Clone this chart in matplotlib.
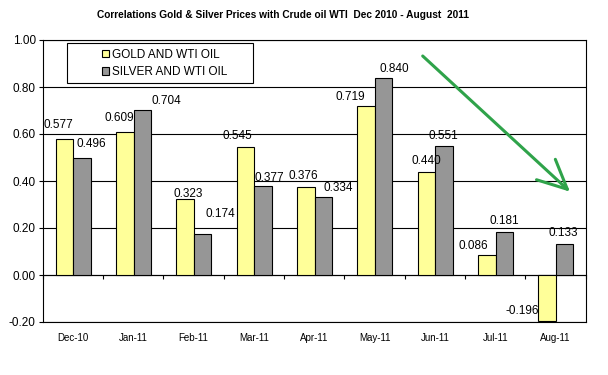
import matplotlib
matplotlib.use("Agg")
import matplotlib.pyplot as plt
import numpy as np
from matplotlib.patches import Patch, Rectangle, FancyArrowPatch

months = ["Dec-10", "Jan-11", "Feb-11", "Mar-11", "Apr-11",
          "May-11", "Jun-11", "Jul-11", "Aug-11"]
gold_wti = [0.577, 0.609, 0.323, 0.545, 0.376, 0.719, 0.440, 0.086, -0.196]
silver_wti = [0.496, 0.704, 0.174, 0.377, 0.334, 0.840, 0.551, 0.181, 0.133]
y_ticks = [-0.2, 0.0, 0.2, 0.4, 0.6, 0.8, 1.0]

# label nudges in pixels (the labels in the original were dragged by hand)
gold_dx = [-6, -5, 3, -8, -2, -16, 0, -13, -25]
gold_dy = [14, 14, 5, 11, 11, 9, 11, 9, 10]
silver_dx = [9, 24, 18, 6, 15, 11, -1, 0, -1]
silver_dy = [14, 9, 20, 8, 9, 9, 10, 11, 11]

plt.rcParams["font.family"] = ["Liberation Sans", "DejaVu Sans"]

W, H = 608, 375
fig = plt.figure(figsize=(W / 100, H / 100), dpi=100)
ax = fig.add_axes([42.7 / W, 1 - 322 / H, (585.7 - 42.7) / W, (322 - 40) / H])

x = np.arange(len(months))
width = 0.29
gold_x = x - 0.14
silver_x = x + 0.15
ax.bar(gold_x, gold_wti, width, color="#ffff99", edgecolor="black", linewidth=0.8, zorder=3)
ax.bar(silver_x, silver_wti, width, color="#969696", edgecolor="black", linewidth=0.8, zorder=3)

for xs, vals, dxs, dys in ((gold_x, gold_wti, gold_dx, gold_dy),
                           (silver_x, silver_wti, silver_dx, silver_dy)):
    for xi, v, dx, dy in zip(xs, vals, dxs, dys):
        ax.annotate(f"{v:.3f}", (xi, v), xytext=(dx, dy), textcoords="offset pixels",
                    ha="center", va="center", fontsize=8.5, zorder=4)

ax.set_xlim(-0.5, len(months) - 0.5)
ax.set_ylim(-0.2, 1.0)
ax.set_yticks(y_ticks)
ax.set_yticklabels([f"{t:.2f}" for t in y_ticks], fontsize=8.5)
ax.set_xticks(x)
ax.set_xticklabels(months, fontsize=7)
ax.tick_params(axis="x", length=0, pad=8)
ax.tick_params(axis="y", length=3, width=0.8, pad=2)
ax.grid(axis="y", color="black", linewidth=0.8, zorder=1)
for sp in ax.spines.values():
    sp.set_color("black")
    sp.set_linewidth(0.8)

# category separators on the zero line
zero_axis = ax.secondary_xaxis(0.2 / 1.2)
zero_axis.set_xticks(np.arange(len(months) + 1) - 0.5)
zero_axis.set_xticklabels([])
zero_axis.tick_params(length=3, width=0.8, direction="out")
zero_axis.spines["bottom"].set_linewidth(0.8)

fig.text(283 / W, 1 - 15 / H,
         "Correlations Gold & Silver Prices with Crude oil WTI  Dec 2010 - August  2011",
         ha="center", va="center", fontsize=7.3, fontweight="bold")

# legend
handles = [Patch(facecolor="#ffff99", edgecolor="black", linewidth=0.8),
           Patch(facecolor="#969696", edgecolor="black", linewidth=0.8)]
fig.legend(handles, ["GOLD AND WTI OIL", "SILVER AND WTI OIL"],
           loc="center left", bbox_to_anchor=(96 / W, 1 - 63.5 / H),
           frameon=False, fontsize=8.5, handlelength=0.6, handleheight=0.6,
           handletextpad=0.25, labelspacing=0.45, borderpad=0)
fig.add_artist(Rectangle((67 / W, 1 - 83 / H), (253 - 67) / W, 40 / H,
                         transform=fig.transFigure, facecolor="none",
                         edgecolor="black", linewidth=0.8))

# hand-drawn trend arrow
fig.add_artist(FancyArrowPatch((422.7 / W, 1 - 56 / H), (570 / W, 1 - 191.7 / H),
                               transform=fig.transFigure,
                               arrowstyle="->,head_length=2.1,head_width=1.0",
                               mutation_scale=10, color="#2fa34a", linewidth=2.2,
                               shrinkA=0, shrinkB=0))

fig.savefig("out.png", dpi=100)
